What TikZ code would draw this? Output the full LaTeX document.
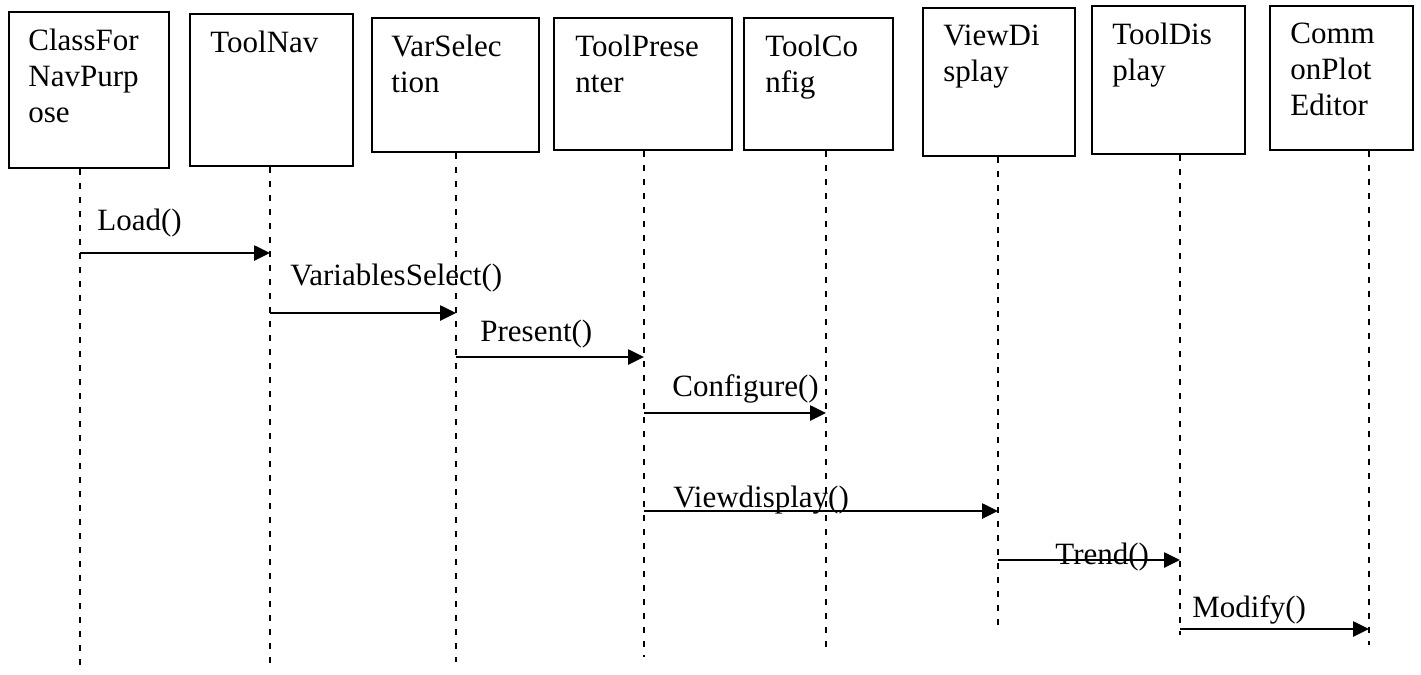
\documentclass[tikz,border=0pt]{standalone}
\usepackage{fontspec}
\setmainfont{Liberation Serif}
\usetikzlibrary{arrows.meta,positioning}

\begin{document}
\begin{tikzpicture}[x=0.5pt,y=-0.5pt,
objbox/.style={draw,line width=1.1pt,anchor=north west,inner sep=0pt},
objtext/.style={align=left,inner sep=0pt,font=\fontsize{15.5}{18}\selectfont},
lifeline/.style={line width=1.1pt,dash pattern=on 3pt off 4pt},
msg/.style={line width=1.3pt,-{Triangle[length=8pt,width=7.5pt]}},
msgtext/.style={anchor=base west,inner sep=0pt,font=\fontsize{15.5}{18}\selectfont}
]
\useasboundingbox (0,0) rectangle (1421,675);

% objects
\node[objbox,minimum width=80pt,minimum height=78pt] (cfnp) at (8,11) {};
\node[objtext,below right=9pt and 10pt of cfnp.north west] (cfnptxt) {ClassFor\\NavPurp\\ose};
\node[objbox,minimum width=81.5pt,minimum height=76pt] (tnav) at (189,13) {};
\node[objtext,below right=9pt and 10.5pt of tnav.north west] (tnavtxt) {ToolNav};
\node[objbox,minimum width=83.5pt,minimum height=67pt] (vsel) at (371,17) {};
\node[objtext,below right=9pt and 10pt of vsel.north west] (vseltxt) {VarSelec\\tion};
\node[objbox,minimum width=89pt,minimum height=66pt] (tpres) at (553,17) {};
\node[objtext,below right=9pt and 11pt of tpres.north west] (tprestxt) {ToolPrese\\nter};
\node[objbox,minimum width=74.5pt,minimum height=66pt] (tconf) at (743,17) {};
\node[objtext,below right=9pt and 11pt of tconf.north west] (tconftxt) {ToolCo\\nfig};
\node[objbox,minimum width=76pt,minimum height=74pt] (vdisp) at (922,7) {};
\node[objtext,below right=9pt and 10.5pt of vdisp.north west] (vdisptxt) {ViewDi\\splay};
\node[objbox,minimum width=76.5pt,minimum height=74pt] (tdisp) at (1091,5) {};
\node[objtext,below right=9pt and 10.5pt of tdisp.north west] (tdisptxt) {ToolDis\\play};
\node[objbox,minimum width=71.5pt,minimum height=72pt] (cpe) at (1269,5) {};
\node[objtext,below right=9pt and 10.5pt of cpe.north west] (cpetxt) {Comm\\onPlot\\Editor};

% lifelines
\coordinate (cfnpend) at (80,673);
\coordinate (tnavend) at (270,663);
\coordinate (vselend) at (456,662);
\coordinate (tpresend) at (644,657);
\coordinate (tconfend) at (826,648);
\coordinate (vdispend) at (998,633);
\coordinate (tdispend) at (1180,635);
\coordinate (cpeend) at (1369,645);
\foreach \obj in {cfnp,tnav,vsel,tpres,tconf,vdisp,tdisp,cpe}
  \draw[lifeline] (\obj.south -| \obj end) -- (\obj end);

% messages
\draw[msg] (cfnpend |- 0,253) -- (tnavend |- 0,253);
\node[msgtext] (load) at (97,230) {Load()};
\draw[msg] (tnavend |- 0,313) -- (vselend |- 0,313);
\node[msgtext] (varsel) at (290,285) {VariablesSelect()};
\draw[msg] (vselend |- 0,357) -- (tpresend |- 0,357);
\node[msgtext] (present) at (480,341) {Present()};
\draw[msg] (tpresend |- 0,413) -- (tconfend |- 0,413);
\node[msgtext] (configure) at (672,396) {Configure()};
\draw[msg] (tpresend |- 0,511) -- (vdispend |- 0,511);
\node[msgtext] (viewdisp) at (673,507) {Viewdisplay()};
\draw[msg] (vdispend |- 0,560) -- (tdispend |- 0,560);
\node[msgtext] (trend) at (1055,564) {Trend()};
\draw[msg] (tdispend |- 0,629) -- (cpeend |- 0,629);
\node[msgtext] (modify) at (1192,617) {Modify()};
\end{tikzpicture}
\end{document}
